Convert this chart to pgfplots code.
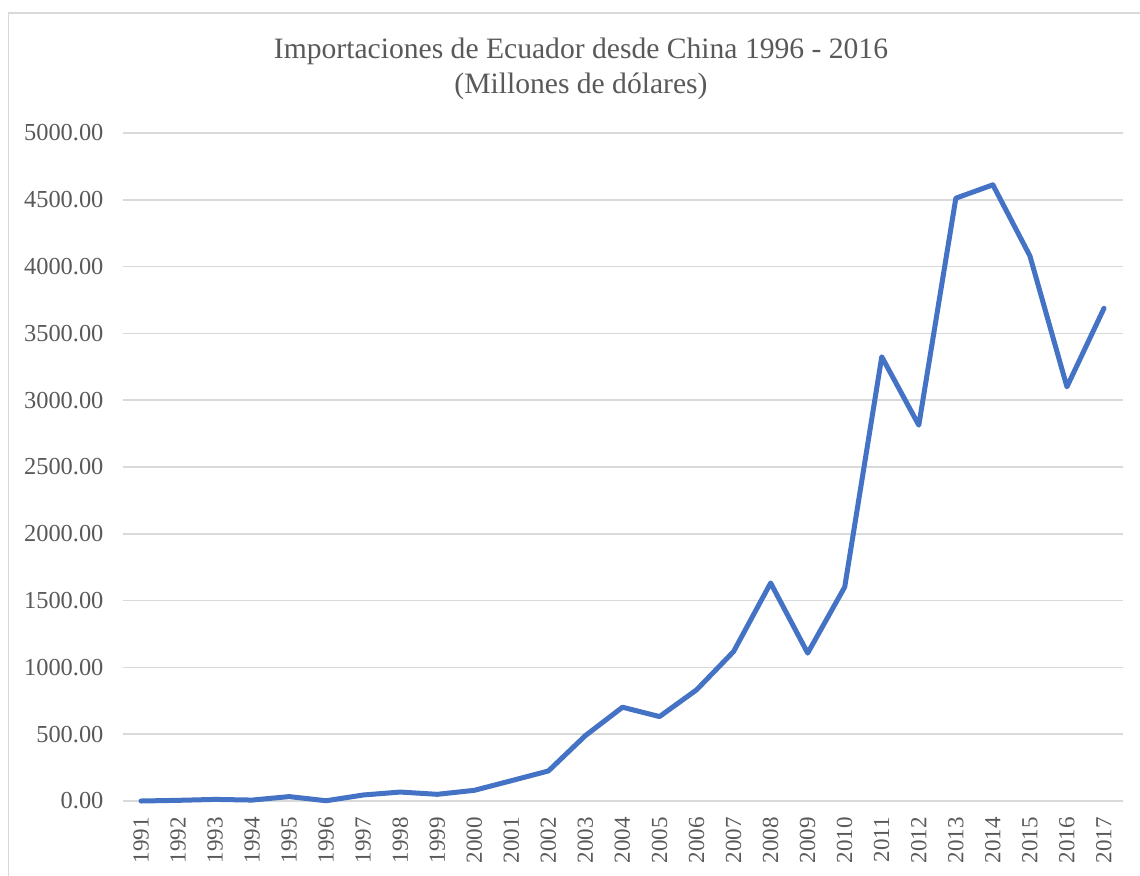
\documentclass[border=0pt]{standalone}
\usepackage{fontspec}
\setmainfont{Liberation Serif}
\usepackage{pgfplots}
\pgfplotsset{compat=1.18}
\definecolor{linecol}{HTML}{4472C4}
\definecolor{gridcol}{HTML}{D9D9D9}
\definecolor{txtcol}{HTML}{595959}
\begin{document}
\begin{tikzpicture}
\path[use as bounding box] (0,0) rectangle (570pt,437.5pt);
\draw[gridcol, line width=0.8pt] (4.25pt,-10pt) rectangle (590pt,431pt);
\node[txtcol, font=\fontsize{14.8}{17.5}\selectfont, align=center] at (290.5pt,403pt)
  {Importaciones de Ecuador desde China 1996 - 2016\\(Millones de dólares)};
\begin{axis}[
  at={(61.25pt,37pt)}, anchor=south west,
  scale only axis, width=500pt, height=334pt,
  xmin=1990.5, xmax=2017.5, ymin=0, ymax=5000,
  xtick={1991,...,2017}, ytick={0,500,...,5000},
  axis line style={draw=none},
  major tick length=0pt,
  ymajorgrids, grid style={gridcol, line width=0.8pt},
  tick label style={txtcol, font=\fontsize{11.5}{12}\selectfont},
  /pgf/number format/assume math mode=true,
  yticklabel style={font=\fontsize{12.2}{13}\selectfont, /pgf/number format/.cd, fixed, fixed zerofill, precision=2, 1000 sep={}},
  xticklabel style={rotate=90, anchor=east, /pgf/number format/1000 sep={}},
  yticklabel shift=6pt,
  xticklabel shift=4.5pt,
  clip=false,
]
\addplot[linecol, line width=2.5pt, line join=round, line cap=round] coordinates {
(1991,0) (1992,5) (1993,12) (1994,7) (1995,33) (1996,2) (1997,45) (1998,67)
(1999,50) (2000,80) (2001,152) (2002,225) (2003,490) (2004,702) (2005,632)
(2006,832) (2007,1119) (2008,1632) (2009,1107) (2010,1602) (2011,3325)
(2012,2813) (2013,4512) (2014,4612) (2015,4080) (2016,3100) (2017,3688)
};
\end{axis}
\end{tikzpicture}
\end{document}
